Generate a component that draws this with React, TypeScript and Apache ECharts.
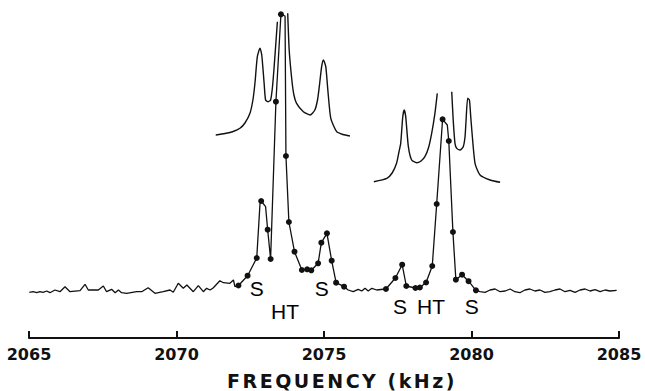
import { useEffect, useRef } from "react";
import * as echarts from "echarts";

// Measured trace: baseline noise (no marker) and measured points (dots)
const noiseLeftFreq = [2065.01, 2065.14, 2065.26, 2065.37, 2065.48, 2065.6, 2065.71, 2065.88, 2066.05, 2066.22, 2066.39, 2066.73, 2066.9, 2067.01, 2067.18, 2067.35, 2067.52, 2067.63, 2067.8, 2067.92, 2068.03, 2068.14, 2068.31, 2068.65, 2068.82, 2069.04, 2069.27, 2069.55, 2069.78, 2069.89, 2070.06, 2070.23, 2070.35, 2070.57, 2070.74, 2070.91, 2071.02, 2071.14, 2071.25, 2071.47, 2071.59, 2071.81, 2071.93, 2071.98];
const noiseLeftAmp = [0.7, 1.3, 0.3, 1.3, 0.7, 2, 0.3, 3, 1.3, 6.3, 1.3, 2.3, 8.7, 3, 3, 3, 7, 1.3, 3.7, 0.3, 3, 0.3, -0.3, 1.3, 1.3, 5.3, -0.3, 1.3, 3, 0.7, 9.7, 4.7, 8, 1.3, 7.3, 1.3, 4.7, 3, 5.3, 12.3, 10.3, 9.7, 13, 6.3];

const group1Freq = [2072.1, 2072.41, 2072.72, 2072.87, 2073.09, 2073.19, 2073.37, 2073.54, 2073.71, 2073.81, 2074.0, 2074.25, 2074.43, 2074.57, 2074.8, 2074.91, 2075.1, 2075.26, 2075.41, 2075.68];
const group1Amp = [7.5, 17.3, 35, 92, 63.3, 34, 191.3, 278.7, 137, 71, 41.3, 23, 23.7, 22.7, 29.7, 50.3, 59.7, 32.3, 10.3, 6.3];

const noiseMidFreq = [2075.82, 2075.99, 2076.16, 2076.28, 2076.39, 2076.5, 2076.62, 2076.79, 2076.93];
const noiseMidAmp = [3, 1.3, 3.7, 2, 4.7, 2, 4.7, 3, 3.5];

const group2Freq = [2077.1, 2077.42, 2077.65, 2077.79, 2078.1, 2078.25, 2078.46, 2078.67, 2078.82, 2079.02, 2079.23, 2079.37, 2079.47, 2079.68, 2079.9, 2080.15];
const group2Amp = [4, 15, 28.3, 7, 5, 5.5, 10.5, 27, 89, 173.7, 152, 61, 13.3, 18.3, 11.8, 2.7];

const noiseRightFreq = [2080.29, 2080.46, 2080.63, 2080.8, 2080.97, 2081.14, 2081.31, 2081.47, 2081.64, 2081.81, 2081.98, 2082.15, 2082.32, 2082.49, 2082.66, 2082.83, 2083.0, 2083.17, 2083.34, 2083.51, 2083.68, 2083.85, 2084.02, 2084.19, 2084.36, 2084.53, 2084.69, 2084.92];
const noiseRightAmp = [1.3, 0.7, 3, 4, 1.3, 2, 4, 1.3, 0.3, 3, 4, 2, 3, 0.7, 1.3, 3, 4, 1.3, 2.7, 0.7, 3, 4, 2, 3.3, 1.3, 3, 2, 2.7];

// Pen corners of the recorded trace between measured points (no marker)
const cornerFreq = [2072.83, 2073.02, 2073.68, 2079.18];
const cornerAmp = [89, 86.3, 277, 168];

// Calculated line shapes (upper curves), central peak truncated (null gap)
const theory1Freq = [2071.33, 2071.64, 2071.92, 2072.15, 2072.32, 2072.49, 2072.59, 2072.66, 2072.74, 2072.83, 2072.89, 2072.97, 2073.02, 2073.11, 2073.19, 2073.25, 2073.31, 2073.42, null, 2073.77, 2073.82, 2073.91, 2073.98, 2074.07, 2074.3, 2074.53, 2074.69, 2074.78, 2074.84, 2074.92, 2074.98, 2075.06, 2075.13, 2075.23, 2075.43, 2075.64, 2075.88];
const theory1Amp = [158, 159.5, 161.5, 164.7, 170, 179.7, 193, 210, 236.3, 244.7, 238, 210, 193, 191.3, 193, 205, 226.3, 271.3, null, 279.7, 243, 213, 198, 189.7, 181.3, 178, 183, 193, 206.3, 226.3, 233, 226.3, 203, 174.7, 161.3, 158.5, 157];

const theory2Freq = [2076.69, 2077.13, 2077.31, 2077.46, 2077.54, 2077.6, 2077.67, 2077.72, 2077.77, 2077.86, 2077.97, 2078.14, 2078.29, 2078.42, 2078.54, 2078.65, 2078.76, 2078.84, null, 2079.33, 2079.38, 2079.44, 2079.5, 2079.61, 2079.72, 2079.78, 2079.81, 2079.87, 2079.93, 2079.97, 2080.01, 2080.12, 2080.29, 2080.63, 2080.97];
const theory2Amp = [111.3, 114.7, 120, 129.7, 141, 149.7, 176.3, 183, 176.3, 146.3, 133, 130.3, 132, 136.3, 145, 159.7, 179.7, 199.7, null, 201.3, 173, 149.7, 144.7, 143, 146.3, 156, 169.7, 194.7, 193, 178, 163, 129.7, 118, 113, 110.7];

// Peak annotations
const peakLabels = ["S", "HT", "S", "S", "HT", "S"];
const peakLabelFreq = [2072.72, 2073.68, 2074.92, 2077.58, 2078.63, 2080.01];
const peakLabelAmp = [5, -18, 5, -13, -13, -13];

const X_MIN = 2065;
const X_MAX = 2085;
const X_STEP = 5;
const AXIS_TITLE = "FREQUENCY (kHz)";

const INK = "#111111";

function pairs(f: (number | null)[], a: (number | null)[]) {
  return f.map((v, i) => (v === null || a[i] === null ? [null, null] : [v, a[i]]));
}

export default function App() {
  const ref = useRef<HTMLDivElement>(null);

  useEffect(() => {
    if (!ref.current) return;
    const chart = echarts.init(ref.current, undefined, { renderer: "svg" });

    const plain = (f: number[], a: number[]) =>
      f.map((v, i) => ({ value: [v, a[i]], symbol: "none" }));
    const dotted = (f: number[], a: number[]) =>
      f.map((v, i) => ({ value: [v, a[i]], symbol: "circle" }));

    const trace = [
      ...plain(noiseLeftFreq, noiseLeftAmp),
      ...dotted(group1Freq, group1Amp),
      ...plain(noiseMidFreq, noiseMidAmp),
      ...dotted(group2Freq, group2Amp),
      ...plain(noiseRightFreq, noiseRightAmp),
      ...plain(cornerFreq, cornerAmp),
    ].sort((p, q) => p.value[0] - q.value[0]);

    chart.setOption({
      animation: false,
      backgroundColor: "#ffffff",
      grid: { left: 29, right: 26, top: 0, bottom: 53 },
      xAxis: {
        type: "value",
        min: X_MIN,
        max: X_MAX,
        interval: X_STEP,
        axisLine: { show: true, onZero: false, lineStyle: { color: INK, width: 2 } },
        axisTick: { show: true, inside: true, length: 7, lineStyle: { color: INK, width: 2 } },
        axisLabel: {
          color: INK,
          fontFamily: "DejaVu Sans",
          fontWeight: "bold",
          fontSize: 16,
          margin: 8,
          formatter: (v: number) => String(v),
        },
        splitLine: { show: false },
      },
      yAxis: {
        type: "value",
        min: -45,
        max: 293,
        show: false,
        splitLine: { show: false },
      },
      series: [
        {
          type: "line",
          data: trace,
          symbolSize: 6,
          showSymbol: true,
          itemStyle: { color: INK },
          lineStyle: { color: INK, width: 1.3 },
          z: 3,
        },
        {
          type: "line",
          data: pairs(theory1Freq, theory1Amp),
          symbol: "none",
          smooth: 0.2,
          connectNulls: false,
          lineStyle: { color: INK, width: 1.4 },
          z: 2,
        },
        {
          type: "line",
          data: pairs(theory2Freq, theory2Amp),
          symbol: "none",
          smooth: 0.2,
          connectNulls: false,
          lineStyle: { color: INK, width: 1.4 },
          z: 2,
        },
        {
          type: "scatter",
          data: peakLabelFreq.map((f, i) => [f, peakLabelAmp[i], peakLabels[i]]),
          symbolSize: 1,
          itemStyle: { color: "rgba(0,0,0,0)", opacity: 1 },
          label: {
            show: true,
            position: "inside",
            formatter: (p: any) => p.data[2],
            color: "#000",
            opacity: 1,
            fontFamily: "Liberation Sans",
            fontSize: 21,
          },
          z: 4,
        },
      ],
      graphic: [
        {
          type: "text",
          x: 342,
          y: 381,
          style: {
            text: AXIS_TITLE,
            fill: INK,
            font: "bold 19px 'DejaVu Sans'",
            textAlign: "center",
            textVerticalAlign: "middle",
          },
        },
      ],
    });

    ref.current.querySelectorAll("text").forEach((t) => {
      if ((t.textContent || "").indexOf("FREQUENCY") >= 0) {
        (t as SVGTextElement).style.letterSpacing = "2.5px";
      }
    });

    return () => chart.dispose();
  }, []);

  return (
    <div
      ref={ref}
      style={{ position: "absolute", left: 0, top: 0, width: 645, height: 391, background: "#fff" }}
    />
  );
}
